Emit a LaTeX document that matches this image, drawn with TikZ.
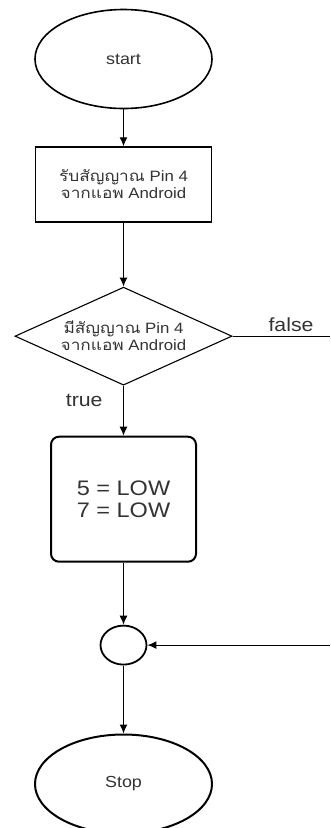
\documentclass[tikz,border=0pt]{standalone}
\usepackage{fontspec}
\setmainfont{Liberation Sans}[FakeStretch=1.12]
\newfontfamily\thaifont[Script=Thai, FakeStretch=1.15]{Loma}
\usetikzlibrary{positioning,shapes.geometric,arrows.meta}

\newcommand{\thtxt}[1]{{\thaifont #1}}

\tikzset{
  terminal/.style={ellipse, draw, line width=1.6pt, minimum width=177pt, minimum height=99pt, inner sep=0pt, text=black!80, font=\fontsize{16}{19}\selectfont},
  process/.style={rectangle, draw, line width=1.3pt, minimum width=176pt, minimum height=75pt, inner sep=0pt, align=center, text=black!80, font=\fontsize{15}{17}\selectfont},
  decision/.style={diamond, draw, line width=1.1pt, aspect=2.2, minimum width=217pt, minimum height=98pt, inner sep=0pt, align=center, text=black!80, font=\fontsize{15}{17}\selectfont},
  action/.style={rectangle, rounded corners=8pt, draw, line width=2pt, minimum width=145pt, minimum height=125pt, inner sep=0pt, align=center, text=black!80, font=\fontsize{21}{22}\selectfont},
  junction/.style={ellipse, draw, line width=1.8pt, minimum width=46pt, minimum height=39pt, inner sep=0pt},
  branch/.style={text=black!80, font=\fontsize{19}{21}\selectfont},
  flow/.style={->, line width=1.2pt}
}

\begin{document}
\begin{tikzpicture}[x=1pt, y=1pt, >={Latex[length=9pt,width=8pt]}]
\useasboundingbox (0,0) rectangle (330,-828);

\node [terminal] (start) at (123.5,-59) {start};
\node [process, below=37pt of start] (recv) {\thtxt{รับสัญญาณ} Pin 4\\\thtxt{จากแอพ} Android};
\node [decision, below=64pt of recv] (check) {\thtxt{มีสัญญาณ} Pin 4\\\thtxt{จากแอพ} Android};
\node [action, below=50pt of check] (low) {5 = LOW\\7 = LOW};
\node [junction, below=62pt of low] (join) {};
\node [terminal, line width=2pt, below=68pt of join] (stop) {Stop};

% false branch leaves the page on the right and comes back into the join
\coordinate (edge) at (330,0);
\coordinate (fout) at (check.east -| edge);
\coordinate (fin) at (join.east -| edge);

\draw [flow] (start) -- (recv);
\draw [flow] (recv) -- (check);
\draw [flow] (check) -- node[branch, left=17pt, pos=0.3] {true} (low);
\draw [line width=1.2pt] (check.east) -- node[branch, above=1pt, pos=0.6] {false} (fout);
\draw [flow] (low) -- (join);
\draw [flow] (fin) -- (join.east);
\draw [flow] (join) -- (stop);
\end{tikzpicture}
\end{document}
